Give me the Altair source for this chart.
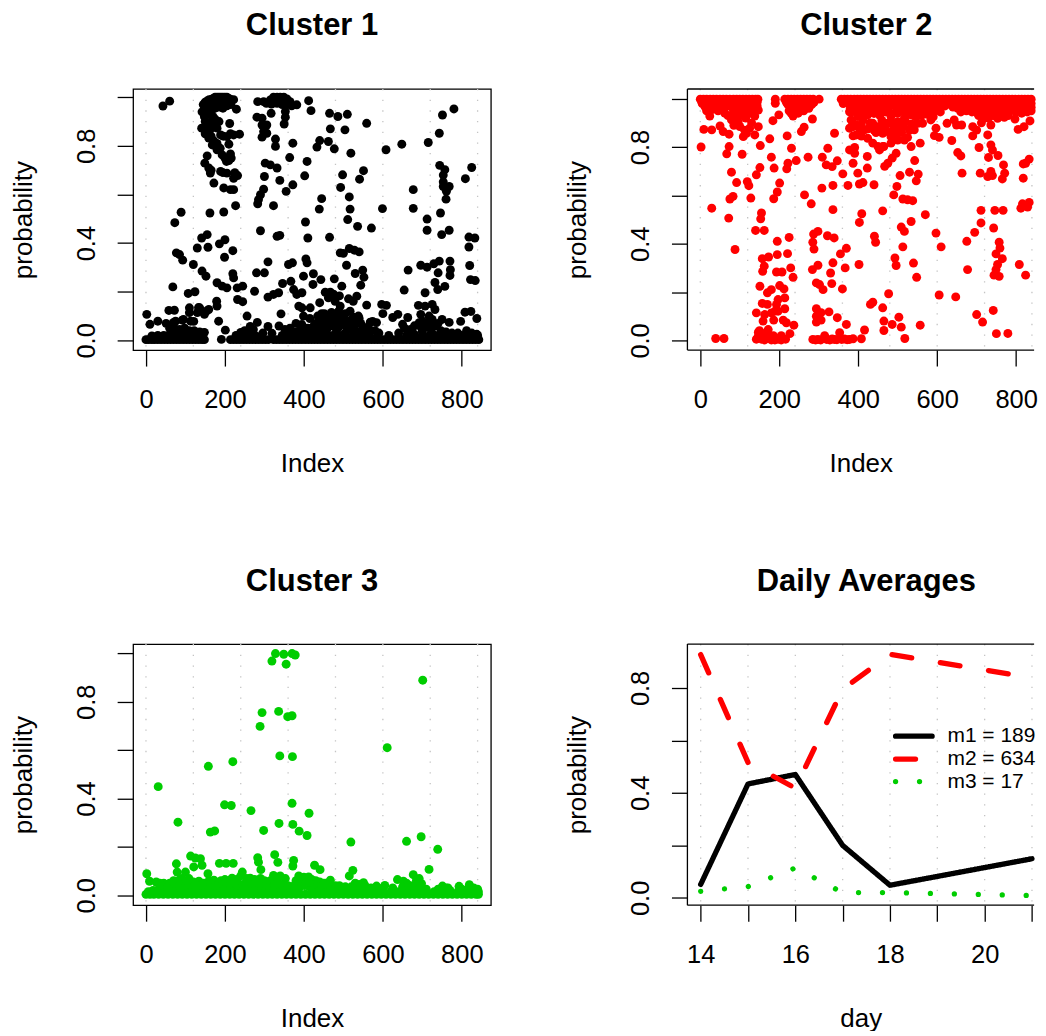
import altair as alt
import pandas as pd

FONT = "Liberation Sans"

grid_index = [0, 120, 240, 360, 480, 600, 720, 840]
grid_day = [14, 15, 16, 17, 18, 19, 20, 21]
x_ticks_index = [0, 200, 400, 600, 800]
y_ticks = [0, 0.2, 0.4, 0.6, 0.8, 1.0]
y_ticks_day = [0, 0.2, 0.4, 0.6, 0.8]
x_ticks_day = [14, 15, 16, 17, 18, 19, 20, 21]

# ---------- Cluster 1 ----------
c1_top = [(43,.964),(60,.984),(145,.97),(150,.95),(142,.94),(148,.92),(155,.985),(160,.99),(165,.99),(170,.995),(175,1.0),(180,1.0),(185,1.0),(190,1.0),(195,1.0),(200,1.0),(205,1.0),(210,.995),(215,.99),(222,.99),(150,.98),(155,.96),(160,.96),(165,.97),(170,.97),(180,.97),(190,.975),(200,.98),(150,.90),(155,.88),(160,.93),(165,.90),(170,.92),(229,.951),(212,.892),(141,.873),(162,.866),(172,.893),(180,.873),(189,.845),(205,.838),(222,.845),(237,.848),(210,.807),(159,.832),(168,.804),(180,.784),(193,.763),(214,.767),(204,.736),(216,.75),(155,.759),(149,.729),(159,.709),(163,.688),(172,.647),(189,.695),(205,.688),(232,.678),(222,.667),(197,.627),(214,.62),(222,.62),(227,.554),(162,.524),(197,.528),(168,.95),(175,.955),(185,.96),(195,.955),(205,.965),(215,.97),(175,.91),(185,.9),(150,.85),(158,.86),(165,.84),(172,.82),(180,.81),(188,.79),(200,.75),(210,.74),(196,.84),(214,.85),(165,.7),(195,.69),(225,.69)]
c1_left = [(89,.527),(73,.484),(155,.435),(141,.421),(130,.38),(157,.383),(186,.397),(200,.414),(220,.369),(199,.342),(77,.36),(85,.353),(93,.33),(120,.312),(142,.285),(152,.264),(220,.274),(222,.257),(180,.237),(193,.223),(205,.216),(231,.216),(245,.223),(68,.22),(107,.193),(124,.2),(232,.168),(245,.159),(179,.161),(180,.141),(110,.134),(136,.134),(159,.127),(58,.123),(72,.124),(148,.107),(110,.114),(130,.114),(2,.107),(256,.1),(184,.079),(201,.042),(191,.004),(10,.066),(30,.079),(51,.07),(75,.079),(92,.083),(113,.079),(70,.074),(95,.086),(121,.078),(153,.12),(133,.135)]
c1_mid = [(283,.982),(298,.982),(315,.989),(323,1.0),(332,1.0),(340,1.0),(349,1.0),(357,.993),(365,.982),(382,.969),(305,.975),(318,.972),(332,.975),(345,.97),(357,.97),(369,.965),(317,.934),(353,.941),(353,.918),(350,.89),(281,.918),(294,.914),(294,.886),(306,.886),(298,.859),(294,.836),(306,.852),(328,.828),(328,.798),(372,.811),(364,.752),(302,.729),(315,.722),(332,.709),(300,.674),(339,.658),(298,.622),(372,.64),(355,.613),(290,.599),(285,.579),(283,.562),(323,.554),(290,.451),(332,.428),(339,.432),(280,.278),(300,.278),(309,.323),(275,.202),(309,.178),(323,.189),(336,.196),(346,.234),(367,.243),(361,.312),(371,.319),(374,.209),(382,.189),(395,.196),(387,.141),(395,.134),(342,.109),(337,.059),(319,.029)]
c1_right = [(412,.986),(418,.945),(465,.934),(486,.921),(510,.93),(467,.87),(504,.866),(559,.893),(440,.822),(433,.795),(462,.818),(477,.788),(519,.77),(408,.736),(402,.677),(498,.681),(551,.698),(541,.663),(493,.629),(515,.59),(445,.583),(439,.54),(517,.54),(511,.497),(404,.487),(536,.469),(571,.462),(410,.421),(465,.424),(515,.378),(492,.36),(500,.358),(528,.371),(540,.364),(405,.335),(408,.319),(508,.309),(549,.289),(530,.275),(552,.26),(399,.264),(424,.274),(443,.25),(423,.23),(477,.253),(544,.227),(496,.223),(454,.198),(467,.198),(475,.19),(490,.183),(513,.171),(534,.182),(525,.161),(440,.155),(462,.175),(479,.161),(492,.141),(517,.12),(559,.145),(416,.134),(399,.1),(538,.1),(597,.148),(609,.144),(600,.11)]
c1_far = [(608,.784),(648,.807),(715,.814),(743,.852),(751,.927),(780,.952),(677,.62),(677,.543),(599,.542),(712,.499),(712,.453),(746,.524),(749,.435),(768,.453),(744,.72),(757,.702),(753,.68),(753,.652),(753,.633),(768,.633),(761,.613),(760,.581),(809,.665),(825,.711),(818,.425),(833,.421),(818,.384),(820,.308),(822,.25),(834,.246),(696,.309),(712,.301),(729,.315),(743,.326),(770,.326),(771,.291),(770,.267),(740,.278),(664,.289),(654,.207),(707,.196),(732,.238),(757,.222),(739,.209),(690,.144),(707,.141),(725,.148),(732,.127),(696,.107),(717,.1),(625,.094),(638,.107),(663,.094),(808,.116),(823,.119),(797,.078),(838,.09),(768,.074),(750,.086),(725,.086),(692,.073),(650,.066),(584,.073),(568,.075),(574,.078)]
c1_dense = [(415,.09),(425,.06),(435,.1),(445,.075),(452,.11),(460,.085),(470,.115),(480,.09),(488,.12),(497,.095),(505,.11),(515,.08),(525,.095),(440,.045),(450,.05),(462,.055),(474,.06),(486,.05),(498,.065),(510,.045),(520,.06),(532,.04),(544,.07),(556,.05),(540,.09),(410,.05),(395,.065),(380,.07),(365,.05),(352,.045),(388,.04),(420,.035),(432,.03),(456,.03),(480,.03),(504,.03),(528,.03),(552,.035),(564,.05),(580,.04),(590,.03),(640,.03),(655,.05),(670,.045),(680,.06),(698,.05),(710,.055),(722,.05),(735,.06),(747,.04),(760,.035),(775,.03),(790,.03),(812,.04),(825,.03),(838,.025),(240,.033),(264,.057),(282,.074),(296,.03),(309,.057),(250,.04),(272,.045),(60,.05),(72,.05),(85,.045),(98,.05),(110,.04),(122,.04),(136,.035),(148,.033),(442,.085),(455,.07),(468,.08),(478,.07),(492,.08),(505,.07),(518,.075),(430,.07),(420,.05),(445,.11),(462,.1),(475,.1),(500,.1),(530,.07),(550,.055),(700,.08),(715,.075),(728,.07),(740,.07),(700,.035),(725,.03),(670,.03),(615,.02),(560,.03),(400,.035),(375,.035)]
c1_floor_x = [0,7,15,22,30,38,46,54,62,70,78,86,94,102,110,118,126,134,142,148,214,222,230,238,246,254,262,270,278,286,294,302,310,323,331,339,347,355,363,371,379,387,395,403,411,419,427,435,443,451,459,467,475,483,491,499,507,515,523,531,539,547,555,563,571,579,587,595,603,611,619,627,635,643,651,659,667,675,683,691,699,707,715,723,731,739,747,755,763,771,779,787,795,803,811,819,827,835,843]
c1_floor_y = [0.003] * len(c1_floor_x)
c1_second_x = [15,30,45,60,75,90,105,120,135,146,228,244,260,276,290,345,365,385,405,425,445,465,485,505,525,545,565,585,660,680,700,720,740,760,780,800,820,840]
c1_second_y = [.018,.02,.02,.025,.02,.025,.02,.025,.02,.03,.02,.02,.025,.02,.015,.02,.025,.02,.025,.02,.025,.02,.025,.02,.025,.02,.02,.015,.02,.025,.02,.025,.02,.025,.015,.02,.02,.02]

# ---------- Cluster 2 ----------
c2_top_x = [0,8,16,25,33,41,50,58,66,75,84,92,100,108,116,124,132,140,146,190,214,222,230,238,246,254,262,270,278,286,301,357,365,373,381,390,398,406,414,422,430,438,446,454,462,470,478,486,494,502,510,518,526,534,542,550,558,566,574,582,590,598,606,614,622,630,638,646,654,662,670,678,686,694,702,710,718,726,734,742,750,758,766,774,782,790,798,806,814,822,830,838]
c2_top_y = [0.998] * len(c2_top_x)
c2_second_x = [5,14,24,36,48,60,72,84,96,108,120,132,144,222,234,246,258,270,282,380,392,404,416,428,440,452,464,476,488,500,512,524,536,548,560,572,584,596,608,620,640,652,664,676,688,700,712,724,736,748,760,772,784,796,808,820,832,838]
c2_second_y = [.98,.965,.97,.975,.97,.965,.97,.96,.975,.965,.97,.965,.97,.975,.965,.97,.96,.97,.975,.96,.97,.965,.975,.96,.97,.965,.97,.96,.975,.97,.96,.975,.965,.97,.965,.96,.97,.965,.975,.97,.965,.96,.965,.955,.965,.96,.965,.955,.965,.96,.965,.97,.96,.965,.955,.965,.96,.965]
c2_third_x = [4,20,38,56,74,92,110,128,144,218,236,254,272,288,362,376,392,408,424,440,456,472,488,504,520,536,552,568,584,600,616,632,648,664,680,696,712,728,744,760,776,792,808,824,838]
c2_third_y = [.985,.983,.985,.982,.985,.983,.985,.982,.985,.985,.982,.985,.983,.985,.98,.982,.985,.983,.98,.985,.982,.98,.985,.983,.98,.985,.982,.985,.98,.983,.985,.98,.985,.982,.985,.98,.983,.985,.98,.982,.985,.98,.983,.98,.98]
c2_fourth_x = [384,398,412,426,440,454,468,482,496,510,524,538,552,566,580,594,608,660,674,688,702,716,730,744,758,772,786,800,814,828,838]
c2_fourth_y = [.945,.94,.945,.95,.94,.945,.95,.94,.945,.95,.94,.945,.95,.94,.945,.95,.945,.945,.95,.945,.94,.945,.95,.945,.94,.945,.95,.945,.94,.945,.95]
c2_upper_left = [(2,.80),(9,.873),(29,.871),(24,.928),(12,.967),(50,.887),(58,.864),(73,.853),(73,.802),(67,.772),(79,.696),(106,.77),(92,.653),(119,.657),(123,.64),(83,.596),(75,.585),(128,.589),(29,.547),(72,.506),(88,.376),(142,.685),(151,.715),(152,.806),(147,.884),(138,.85),(125,.878),(109,.843),(117,.857),(88,.925),(70,.93),(96,.905),(138,.928),(134,.96),(147,.953),(62,.94),(79,.912),(100,.93),(115,.92),(85,.89),(100,.885),(112,.87),(130,.9),(176,.834),(190,.981),(184,.909),(199,.933),(180,.758),(187,.713),(201,.651),(195,.614),(186,.586),(220,.846),(231,.795),(219,.71),(222,.733),(243,.744),(256,.864),(263,.882),(273,.758),(284,.916),(235,.928),(248,.94),(264,.602),(281,.565),(230,.94),(225,.95),(262,.95),(275,.96),(16,.95),(30,.955),(45,.95),(84,.95),(100,.955),(115,.95),(128,.94)]
c2_mid = [(309,.758),(323,.795),(319,.726),(334,.719),(347,.743),(340,.857),(308,.63),(336,.641),(361,.689),(374,.641),(387,.733),(387,.846),(399,.692),(403,.647),(412,.653),(440,.644),(423,.713),(423,.761),(378,.788),(391,.798),(391,.774),(336,.541),(155,.527),(153,.503),(140,.455),(162,.455)]
c2_low_left = [(195,.41),(225,.426),(157,.338),(173,.345),(195,.355),(221,.359),(162,.307),(158,.286),(193,.283),(207,.283),(229,.3),(235,.261),(151,.224),(180,.21),(201,.227),(212,.213),(170,.197),(214,.176),(197,.169),(157,.153),(170,.149),(193,.149),(214,.131),(189,.121),(142,.114),(163,.107),(180,.114),(197,.121),(159,.08),(186,.084),(210,.084),(237,.063),(218,.073),(227,.028),(172,.045),(147,.034),(142,.005),(147,.018),(155,.005),(163,.002),(172,.012),(180,.002),(189,.002),(197,.005),(205,.002),(216,.005),(150,.04),(165,.03),(185,.02),(205,.02),(39,.008),(60,.008)]
c2_low_mid = [(298,.451),(287,.44),(285,.406),(288,.378),(322,.433),(339,.424),(370,.381),(355,.358),(336,.321),(298,.311),(284,.293),(367,.3),(330,.279),(294,.238),(302,.231),(311,.21),(333,.235),(360,.213),(294,.131),(306,.115),(294,.1),(326,.118),(347,.094),(370,.066),(294,.076),(306,.084),(285,.004),(298,.004),(315,.02),(328,.002),(340,.004),(353,.032),(365,.006),(378,.004),(387,.007),(292,.002),(305,.002),(320,.004),(334,.006),(346,.003),(358,.004),(372,.003),(416,.043),(408,.007),(402,.314)]
c2_scatter = [(437,.158),(431,.149),(441,.431),(444,.406),(403,.488),(409,.524),(462,.536),(462,.135),(465,.08),(465,.041),(477,.193),(486,.066),(509,.055),(503,.096),(518,.008),(557,.063),(605,.188),(647,.18),(493,.341),(496,.31),(513,.387),(509,.469),(517,.451),(534,.492),(540,.32),(548,.261),(570,.52),(597,.444),(610,.387),(513,.585),(525,.582),(538,.578),(490,.602),(498,.637),(506,.682),(530,.696),(552,.688),(547,.66),(543,.744),(557,.816),(467,.72),(475,.733),(486,.754),(496,.774),(454,.788),(465,.802),(534,.802),(593,.847),(605,.84),(597,.878),(584,.912),(563,.898),(542,.871)]
c2_right = [(625,.898),(643,.912),(649,.891),(662,.891),(637,.827),(652,.777),(660,.763),(663,.692),(675,.41),(677,.293),(695,.447),(711,.486),(711,.538),(746,.538),(767,.538),(743,.465),(757,.406),(759,.382),(749,.358),(765,.338),(753,.314),(749,.293),(744,.27),(757,.265),(700,.107),(715,.076),(742,.124),(750,.028),(779,.029),(709,.692),(736,.699),(728,.678),(740,.682),(765,.668),(771,.692),(768,.726),(730,.757),(754,.765),(736,.809),(740,.788),(706,.798),(690,.884),(690,.846),(728,.85),(736,.891),(719,.919),(753,.919),(770,.923),(797,.916),(805,.873),(820,.884),(835,.908),(818,.73),(833,.75),(824,.733),(818,.671),(816,.565),(833,.571),(812,.547),(829,.552),(808,.314),(824,.27),(700,.87),(712,.9),(730,.92),(705,.93),(742,.93),(780,.93)]
c2_dense = [(378,.946),(382,.912),(378,.878),(387,.884),(399,.926),(412,.912),(403,.878),(416,.871),(424,.836),(437,.816),(450,.884),(462,.857),(475,.898),(483,.926),(500,.94),(517,.919),(534,.933),(551,.898),(483,.843),(500,.857),(517,.829),(483,.816),(500,.829),(450,.802),(462,.802),(437,.898),(424,.933),(440,.94),(455,.93),(470,.945),(485,.9),(500,.905),(515,.885),(530,.87),(545,.925),(560,.93),(575,.935),(590,.925),(395,.85),(408,.845),(425,.875),(445,.86),(470,.865),(490,.875),(510,.86),(525,.84),(430,.9),(460,.91),(455,.88),(470,.89),(440,.87),(480,.86),(505,.88),(520,.905),(535,.895),(385,.905),(395,.89),(408,.895)]

# ---------- Cluster 3 ----------
c3_high = [(328,.999),(349,.996),(370,.999),(378,.993),(319,.968),(355,.955),(701,.889),(294,.755),(336,.76),(359,.738),(370,.742),(289,.698),(611,.61),(339,.576),(371,.573),(158,.533),(220,.552),(31,.449),(199,.374),(216,.371),(370,.38),(266,.35),(413,.339),(81,.302),(337,.297),(372,.293),(163,.261),(174,.266),(298,.268),(388,.265),(408,.247),(519,.22),(660,.223),(697,.242),(739,.19),(717,.107)]
c3_low = [(113,.162),(125,.154),(138,.151),(121,.117),(142,.124),(77,.13),(186,.132),(203,.132),(221,.132),(283,.155),(285,.137),(326,.168),(334,.136),(374,.144),(372,.121),(427,.124),(441,.106),(524,.103),(515,.08),(291,.106),(244,.096),(157,.089),(2,.089),(79,.096),(100,.096),(9,.058),(26,.055),(84,.062),(637,.065),(652,.058),(677,.085),(692,.069),(698,.048),(323,.082),(353,.069),(387,.08),(412,.076),(467,.062),(551,.052),(584,.038),(605,.041),(751,.038),(793,.037),(819,.044),(264,.071),(218,.071),(172,.062),(134,.058),(109,.069),(340,.08),(400,.075),(240,.08),(60,.05),(90,.07),(200,.065),(290,.07),(430,.06),(450,.05),(530,.05),(540,.045),(760,.03),(830,.03),(840,.025),(395,.065),(405,.07),(420,.065),(440,.055),(455,.05),(380,.06),(330,.065),(315,.06),(300,.06),(275,.065),(255,.07),(230,.065),(210,.06),(190,.06),(160,.06),(150,.05),(120,.055),(100,.06),(70,.06),(45,.05),(35,.05),(660,.05),(685,.06),(670,.04)]
c3_floor_x = [0,10,20,32,44,56,68,80,92,104,116,128,140,152,164,176,188,200,212,224,236,248,260,272,284,296,308,320,332,344,356,368,380,392,404,416,428,440,452,464,476,488,500,512,524,536,548,560,572,584,596,608,620,632,644,656,668,680,692,704,716,728,740,752,764,776,788,800,812,824,836,842]
c3_floor_y = [0.004] * len(c3_floor_x)
c3_mid_x = [6,18,30,42,54,66,78,90,102,114,126,138,150,162,174,186,198,210,222,234,246,258,270,282,294,306,318,330,342,354,366,378,390,402,414,426,438,450,462,474,486,498,510,522,534,546,558,570,590,620,640,660,680,700,730,750,770,790,810,830,842]
c3_mid_y = [.015,.02,.022,.02,.025,.022,.03,.025,.02,.025,.03,.022,.035,.03,.025,.035,.03,.028,.032,.025,.03,.035,.028,.03,.025,.03,.035,.03,.028,.035,.03,.025,.035,.04,.035,.03,.035,.03,.028,.025,.03,.025,.022,.02,.025,.03,.028,.022,.02,.015,.015,.02,.025,.02,.015,.02,.02,.015,.02,.02,.015]
c3_third_x = [40,55,70,85,100,110,125,135,145,155,165,175,185,195,205,215,225,235,245,255,265,275,285,295,305,315,325,335,345,360,375,395,405,415,425,435,445,455,465,480,490,505,520,535,545,555,570,600,625,650,665,680,695,710,740,765,800,825]
c3_third_y = [.04,.035,.05,.04,.04,.045,.05,.04,.05,.045,.045,.04,.05,.045,.05,.045,.05,.04,.045,.04,.05,.045,.05,.04,.045,.04,.045,.05,.045,.04,.04,.05,.05,.055,.045,.05,.04,.045,.045,.04,.04,.035,.035,.04,.04,.04,.03,.03,.03,.035,.04,.04,.035,.025,.025,.03,.025,.03]

# ---------- Daily averages ----------
days_m1 = [14, 15, 16, 17, 18, 21]
vals_m1 = [.051, .434, .47, .2, .048, .149]
days_m2 = [14, 15, 16, 17, 18, 21]
vals_m2 = [.927, .516, .418, .795, .928, .839]
days_m3 = [14, 15, 16, 17, 18, 21]
vals_m3 = [.025, .043, .114, .02, .02, .009]
legend_labels = ["m1 = 189", "m2 = 634", "m3 = 17"]
legend_y = [.616, .529, .443]
legend_key_x = [18.118, 18.89]
legend_text_x = [19.214, 19.214, 19.214]

def rows(*pair_lists):
    out = []
    for pl in pair_lists:
        out.extend(pl)
    return pd.DataFrame(out, columns=["i", "p"])

def cols(*xy):
    fr = [pd.DataFrame({"i": x, "p": y}) for x, y in xy]
    return pd.concat(fr, ignore_index=True)

df1 = pd.concat([rows(c1_top, c1_left, c1_mid, c1_right, c1_far, c1_dense), cols((c1_floor_x, c1_floor_y), (c1_second_x, c1_second_y))], ignore_index=True)
df2 = pd.concat([rows(c2_upper_left, c2_mid, c2_low_left, c2_low_mid, c2_scatter, c2_right, c2_dense), cols((c2_top_x, c2_top_y), (c2_second_x, c2_second_y), (c2_third_x, c2_third_y), (c2_fourth_x, c2_fourth_y))], ignore_index=True)
df3 = pd.concat([rows(c3_high, c3_low), cols((c3_floor_x, c3_floor_y), (c3_mid_x, c3_mid_y), (c3_third_x, c3_third_y))], ignore_index=True)

W, H = 358.6, 261.7
W2 = 347.5                        # the right-hand panels run off the page edge
TICK = 16
LBL = "abs(datum.value)<1e-6||abs(datum.value-0.4)<1e-6||abs(datum.value-0.8)<1e-6 ? datum.label : ''"
GREY = "#c4c4c4"
DOTS = [1.3, 9.4]

def y_axis(vals):
    return alt.Axis(values=vals, title="probability", labelExpr=LBL, format=".1f", labelAngle=270,
                    labelAlign="center", labelBaseline="alphabetic", labelPadding=23, titlePadding=38,
                    tickSize=TICK, tickWidth=1.3, tickColor="black", domain=False, grid=False,
                    labelFontSize=25.5, titleFontSize=26, labelFont=FONT, titleFont=FONT,
                    labelColor="black", titleColor="black", titleFontWeight="normal",
                    labelOverlap=False, labelFlush=False, labelBound=False)

def x_axis(vals, title, expr=None):
    kw = {"labelExpr": expr} if expr else {}
    return alt.Axis(values=vals, title=title, format="d", labelAngle=0, labelPadding=21.5, titlePadding=37.5,
                    tickSize=TICK, tickWidth=1.3, tickColor="black", domain=False, grid=False,
                    labelFontSize=25.5, titleFontSize=26, labelFont=FONT, titleFont=FONT,
                    labelColor="black", titleColor="black", titleFontWeight="normal",
                    labelOverlap=False, labelFlush=False, labelBound=False, **kw)

def title(t, dx=0):
    return alt.TitleParams(t, font=FONT, fontSize=31, fontWeight="bold", color="black", anchor="middle", offset=46, dx=dx)

def frame_layers():
    base = alt.Chart(pd.DataFrame({"a": [0]}))
    return [
        base.mark_rule(color="black", strokeWidth=1.3).encode(x=alt.value(0), x2=alt.value(W2), y=alt.value(0)),
        base.mark_rule(color="black", strokeWidth=1.3).encode(x=alt.value(0), x2=alt.value(W2), y=alt.value(H)),
        base.mark_rule(color="black", strokeWidth=1.3).encode(x=alt.value(0), y=alt.value(0), y2=alt.value(H)),
    ]

def cluster(df, name, color, ydom, right=False):
    xdom = [-32.6, 845.5] if right else [-32.6, 873.6]
    xs = alt.Scale(domain=xdom, nice=False, zero=False)
    ys = alt.Scale(domain=ydom, nice=False, zero=False)
    xax = x_axis(x_ticks_index, "Index")
    g = alt.Chart(pd.DataFrame({"i": grid_index})).mark_rule(color=GREY, strokeWidth=1.3, strokeDash=DOTS).encode(
        x=alt.X("i:Q", scale=xs, axis=xax))
    pts = alt.Chart(df).mark_circle(color=color, size=80, opacity=1).encode(
        x=alt.X("i:Q", scale=xs, axis=xax),
        y=alt.Y("p:Q", scale=ys, axis=y_axis(y_ticks)))
    if right:
        return alt.layer(g, pts, *frame_layers()).properties(
            width=W2, height=H, title=title(name, 5.55), view=alt.ViewConfig(stroke="transparent"))
    return alt.layer(g, pts).properties(width=W, height=H, title=title(name))

DX = alt.Scale(domain=[13.72, 21.045], nice=False, zero=False)
DY = alt.Scale(domain=[-.028, .967], nice=False, zero=False)
XAX4 = x_axis(x_ticks_day, "day", "datum.value%2==0 ? datum.label : ''")
YAX4 = y_axis(y_ticks_day)

def day_line(d, v, color, dash):
    return alt.Chart(pd.DataFrame({"d": d, "v": v})).mark_line(color=color, strokeWidth=5.3, strokeDash=dash, strokeCap="round", strokeJoin="round").encode(
        x=alt.X("d:Q", scale=DX, axis=XAX4),
        y=alt.Y("v:Q", scale=DY, axis=YAX4))

p1 = cluster(df1, "Cluster 1", "#000000", [-.04, 1.034])
p2 = cluster(df2, "Cluster 2", "#ff0000", [-.04, 1.04], right=True)
p3 = cluster(df3, "Cluster 3", "#00cd00", [-.041, 1.038])

g4 = alt.Chart(pd.DataFrame({"d": grid_day})).mark_rule(color=GREY, strokeWidth=1.3, strokeDash=DOTS).encode(
    x=alt.X("d:Q", scale=DX, axis=XAX4))
DASH_SOLID = [1, 0]
DASH_M2 = [20, 29]
DASH_M3 = [0.01, 24]
k1 = day_line(legend_key_x, [legend_y[0]] * 2, "#000000", DASH_SOLID)
k2 = day_line(legend_key_x, [legend_y[1]] * 2, "#ff0000", DASH_M2)
k3 = day_line(legend_key_x, [legend_y[2]] * 2, "#00cd00", DASH_M3)
lt = alt.Chart(pd.DataFrame({"d": legend_text_x, "v": legend_y, "t": legend_labels})).mark_text(
    align="left", baseline="middle", font=FONT, fontSize=21, color="black").encode(
    x=alt.X("d:Q", scale=DX, axis=XAX4), y=alt.Y("v:Q", scale=DY, axis=YAX4), text="t:N")
p4 = alt.layer(g4,
               day_line(days_m1, vals_m1, "#000000", DASH_SOLID),
               day_line(days_m2, vals_m2, "#ff0000", DASH_M2),
               day_line(days_m3, vals_m3, "#00cd00", DASH_M3),
               k1, k2, k3, lt, *frame_layers()).properties(
    width=W2, height=H, title=title("Daily Averages", 5.55), view=alt.ViewConfig(stroke="transparent"))

chart = alt.vconcat(
    alt.hconcat(p1, p2, spacing=71.6),
    alt.hconcat(p3, p4, spacing=71.6),
    spacing=87.4,
).properties(padding={"left": 1.4, "top": 0, "right": -1, "bottom": -3}).configure_view(stroke="black", strokeWidth=1.3)

chart.save("out.html", embed_options={"renderer": "svg", "actions": False})
